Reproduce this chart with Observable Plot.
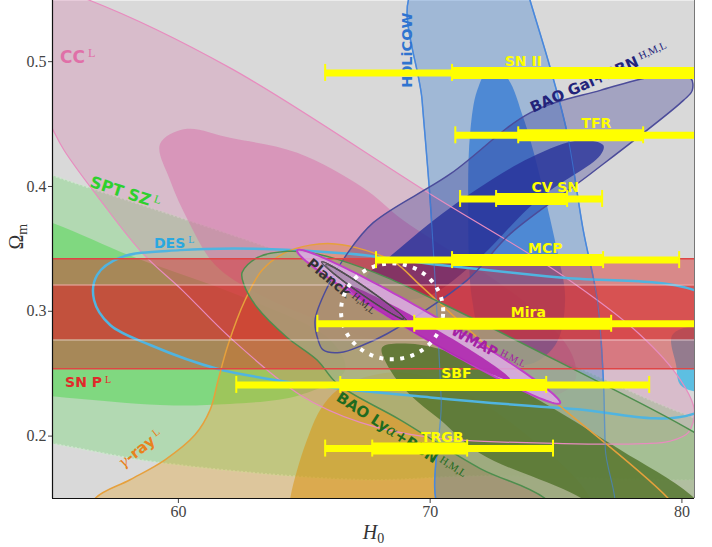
<!DOCTYPE html>
<html><head><meta charset="utf-8">
<script src="https://cdn.jsdelivr.net/npm/d3@7"></script>
<script src="https://cdn.jsdelivr.net/npm/@observablehq/plot@0.6"></script>
<style>body{margin:0;background:#fff;} #chart svg{display:block}</style>
</head><body><div id="chart"></div>
<script>
// ---------- axes ----------
const xDomain = [55, 80.5];
const yDomain = [0.15, 0.549];
const xTicks = [60, 70, 80];
const yTicks = [0.2, 0.3, 0.4, 0.5];

// ---------- contour outlines: [H0, Omega_m] ----------
const ccOuter = [[51.33,0.581],[56.49,0.549],[62.05,0.495],[70.00,0.394],[75.16,0.330],[78.35,0.281],[79.94,0.245],[80.49,0.221],[80.26,0.203],[79.54,0.196],[78.47,0.194],[75.28,0.194],[70.00,0.199],[67.22,0.211],[64.84,0.233],[62.05,0.279],[60.15,0.317],[58.60,0.346],[56.90,0.389],[55.46,0.429],[54.98,0.447],[53.72,0.501]];
const ccInner = [[59.27,0.434],[60.27,0.446],[62.05,0.439],[64.72,0.427],[67.34,0.399],[68.93,0.373],[71.99,0.333],[74.37,0.297],[75.64,0.265],[75.76,0.245],[74.97,0.233],[71.99,0.245],[68.81,0.269],[66.03,0.289],[63.25,0.313],[61.46,0.337],[60.43,0.371],[59.67,0.405]];
const sptOuter = [[48.94,0.453],[54.98,0.409],[58.88,0.383],[64.44,0.345],[69.60,0.305],[75.16,0.261],[80.73,0.213],[87.88,0.173],[80.73,0.165],[71.99,0.168],[67.22,0.165],[59.15,0.179],[54.98,0.194],[48.94,0.213]];
const sptInner = [[48.94,0.413],[54.98,0.371],[58.28,0.343],[62.85,0.309],[66.03,0.277],[66.62,0.253],[64.84,0.233],[61.14,0.225],[59.27,0.225],[54.98,0.232],[48.94,0.245]];
const desOuter = [[56.65,0.309],[56.77,0.329],[57.69,0.343],[60.07,0.349],[63.45,0.350],[66.82,0.346],[70.40,0.337],[75.16,0.327],[80.49,0.317],[83.92,0.277],[80.49,0.218],[75.56,0.222],[70.00,0.231],[64.84,0.242],[61.54,0.254],[58.88,0.273],[57.29,0.289]];
const desInner = [[79.62,0.281],[80.73,0.289],[83.12,0.285],[83.92,0.261],[83.12,0.235],[80.73,0.235],[79.94,0.241],[79.77,0.257]];
const gammaOuter = [[56.09,0.125],[56.69,0.150],[58.08,0.165],[59.47,0.181],[60.66,0.201],[61.26,0.221],[61.58,0.245],[61.97,0.273],[62.65,0.309],[63.33,0.333],[64.24,0.347],[65.23,0.353],[66.23,0.354],[67.42,0.349],[68.61,0.339],[69.60,0.321],[71.99,0.277],[75.04,0.226],[79.46,0.150],[80.73,0.117],[64.84,0.101]];
const gammaInner = [[64.24,0.117],[64.44,0.150],[64.72,0.173],[65.11,0.197],[65.63,0.221],[66.31,0.237],[67.22,0.246],[68.81,0.251],[70.80,0.241],[73.58,0.205],[76.36,0.150],[76.76,0.101]];
const holiOuter = [[69.33,0.557],[69.68,0.469],[70.00,0.389],[70.24,0.309],[70.44,0.229],[70.60,0.133],[77.15,0.133],[76.96,0.189],[76.88,0.245],[76.64,0.309],[76.08,0.365],[75.44,0.443],[74.77,0.495],[73.97,0.549],[73.86,0.557]];
const holiInner = [[72.38,0.495],[73.06,0.487],[73.70,0.455],[74.09,0.429],[75.04,0.349],[75.36,0.309],[74.97,0.273],[73.78,0.257],[72.19,0.273],[71.67,0.309],[71.51,0.389],[71.59,0.443],[71.87,0.477]];
const galOuter = [[65.55,0.277],[65.43,0.293],[65.91,0.319],[66.70,0.346],[67.74,0.371],[70.80,0.410],[73.97,0.459],[76.76,0.477],[79.14,0.489],[80.34,0.487],[80.41,0.477],[80.06,0.469],[76.36,0.410],[73.18,0.362],[71.47,0.325],[68.29,0.282],[67.34,0.273],[66.42,0.267],[65.75,0.269]];
const galInner = [[67.42,0.326],[68.53,0.346],[70.80,0.383],[73.97,0.423],[75.96,0.437],[76.88,0.433],[76.76,0.425],[74.25,0.389],[71.87,0.341],[70.00,0.313],[68.41,0.309],[67.62,0.315]];
const lyaOuter = [[62.53,0.331],[63.13,0.343],[64.32,0.348],[65.23,0.347],[66.42,0.341],[68.29,0.327],[70.40,0.307],[75.16,0.259],[80.49,0.203],[83.92,0.157],[83.12,0.101],[76.76,0.101],[74.57,0.150],[71.99,0.174],[68.81,0.213],[66.31,0.242],[65.51,0.261],[64.32,0.279],[63.13,0.303],[62.61,0.321]];
const lyaInner = [[68.09,0.271],[69.21,0.274],[70.80,0.267],[72.78,0.246],[75.16,0.219],[77.55,0.189],[80.34,0.153],[81.53,0.125],[79.14,0.117],[75.56,0.155],[71.99,0.186],[70.40,0.213],[69.21,0.233],[68.41,0.253]];

// SN P band (Omega_m ranges)
const snpOuter = [0.254, 0.342];
const snpInner = [0.277, 0.321];

// CMB ellipses: centre, semi-axis vector 1, semi-axis vector 2 (H0, Omega_m)
const wmapOuter = {c:[69.94,0.2876], u:[5.22,-0.0612], v:[-0.24,-0.0083]};
const wmapInner = {c:[69.90,0.283], u:[3.28,-0.038], v:[-0.14,-0.0049]};
const planckH = {c:[67.31,0.317], u:[1.63,-0.0228], v:[-0.09,-0.0026]};
const planckM = {c:[67.38,0.316], u:[1.66,-0.0232], v:[-0.10,-0.0029]};
const planckL = {c:[67.45,0.315], u:[1.60,-0.0224], v:[-0.08,-0.0023]};
const dotted = {c:[68.49,0.300], u:[2.03,0], v:[0,0.0384]};

// distance-ladder error bars
const barNames = ["SN II","TFR","CV SN","MCP","Mira","SBF","TRGB"];
const barOm    = [0.491, 0.441, 0.390, 0.341, 0.290, 0.241, 0.190];
const thinLo   = [65.83, 71.00, 71.19, 67.85, 65.52, 62.30, 65.83];
const thickLo  = [70.87, 73.50, 72.62, 70.87, 69.37, 66.43, 67.70];
const thickHi  = [81.50, 78.46, 75.44, 76.87, 77.19, 74.61, 71.47];
const thinHi   = [86.00, 81.00, 76.83, 79.89, 81.04, 78.70, 74.88];
const barLabelH = [73.70, 76.60, 74.97, 74.57, 73.90, 71.04, 70.48];

// probe labels
const probeNames = ["CC","SPT SZ","DES","SN P","γ-ray","H0LiCOW","BAO Gal+BBN","Planck","WMAP","BAO Lyα+BBN"];
const probeSup   = ["L","L","L","L","L","","H,M,L","H,M,L","H,M,L","H,M,L"];
const probeH     = [55.30, 56.45, 59.03, 55.50, 57.80, 69.29, 74.09, 65.07, 70.79, 66.23];
const probeOm    = [0.499, 0.400, 0.351, 0.239, 0.174, 0.479, 0.459, 0.337, 0.282, 0.229];
const probeRot   = [0, 18, 0, 0, -38, -90, -24, 40, 28, 33];
const probeSize  = [17, 16, 14, 14, 15, 14.5, 15, 14, 14, 15];
const probeColor = ["#e070a8","#2ed02e","#2aa8e0","#e02a2a","#e8821e","#2f74d0","#23237a","#333333","#a321a3","#1f6b1f"];

// ---------- build tables ----------
const pts = (arr) => arr.map(([H, Om]) => ({H, Om}));
function ellipse(e, n = 120) {
  return d3.range(n).map(i => {
    const t = 2 * Math.PI * i / n;
    return {H: e.c[0] + e.u[0]*Math.cos(t) + e.v[0]*Math.sin(t),
            Om: e.c[1] + e.u[1]*Math.cos(t) + e.v[1]*Math.sin(t)};
  });
}
const bars = barNames.map((name, i) => ({name, om: barOm[i], thinLo: thinLo[i], thickLo: thickLo[i], thickHi: thickHi[i], thinHi: thinHi[i], lh: barLabelH[i]}));
const caps = bars.flatMap(b => [b.thinLo, b.thickLo, b.thickHi, b.thinHi].map(x => ({x, om: b.om})));
const probes = probeNames.map((name, i) => ({name, H: probeH[i], Om: probeOm[i], rot: probeRot[i], size: probeSize[i], color: probeColor[i]}));

const shape = (arr, o) => Plot.line(pts(arr), {x: "H", y: "Om", curve: "catmull-rom-closed", clip: true, fill: "none", stroke: "none", ...o});
const ell = (e, o) => Plot.line(ellipse(e), {x: "H", y: "Om", curve: "linear-closed", clip: true, fill: "none", stroke: "none", ...o});
const capHalf = 0.0068;

const chart = Plot.plot({
  width: 712, height: 547,
  marginLeft: 52, marginRight: 18, marginTop: 0, marginBottom: 49,
  x: {domain: xDomain, ticks: xTicks, tickSize: 5, tickPadding: 2, label: null},
  y: {domain: yDomain, ticks: yTicks, tickSize: 4, tickPadding: 2, tickFormat: d3.format(".1f"), label: null},
  style: {fontFamily: "Liberation Serif", fontSize: "16px", color: "#444", background: "#fff"},
  marks: [
    Plot.frame({fill: "#d9d9d9", stroke: "none"}),
    // fills
    shape(sptOuter, {fill: "#00d700", fillOpacity: 0.18}),
    shape(sptInner, {fill: "#00d700", fillOpacity: 0.28}),
    shape(sptOuter, {stroke: "#cfe8cf", strokeOpacity: 0.8, strokeWidth: 2, strokeDasharray: "2,2", strokeLinecap: "butt"}),
    shape(ccOuter, {fill: "#d769a5", fillOpacity: 0.25}),
    shape(ccInner, {fill: "#d769a5", fillOpacity: 0.46}),
    shape(desInner, {fill: "#28b4e6", fillOpacity: 0.7}),
    shape(gammaOuter, {fill: "#eb9600", fillOpacity: 0.28}),
    shape(gammaInner, {fill: "#d99410", fillOpacity: 0.55}),
    shape(holiOuter, {fill: "#1e6ed2", fillOpacity: 0.3}),
    shape(holiInner, {fill: "#1e6ed2", fillOpacity: 0.63}),
    shape(holiOuter, {stroke: "#4a88dc", strokeWidth: 1.5}),
    shape(galOuter, {fill: "#28288c", fillOpacity: 0.3}),
    shape(galInner, {fill: "#28329a", fillOpacity: 0.8}),
    // SN P band
    Plot.rect([snpOuter], {y1: d => d[0], y2: d => d[1], fill: "#d72828", fillOpacity: 0.45}),
    Plot.rect([snpInner], {y1: d => d[0], y2: d => d[1], fill: "#d72828", fillOpacity: 0.57}),
    // BAO Ly-alpha above band
    shape(lyaOuter, {fill: "#a0b487", fillOpacity: 0.7}),
    shape(lyaInner, {fill: "#4b6e23", fillOpacity: 0.75}),
    // outlines
    shape(ccOuter, {stroke: "#e88cbf", strokeWidth: 1.2}),
    shape(desOuter, {stroke: "#50b4e0", strokeWidth: 2.5}),
    shape(gammaOuter, {stroke: "#e6a03c", strokeWidth: 1.5}),
    shape(holiOuter, {stroke: "#4a88dc", strokeWidth: 1.2, strokeOpacity: 0.6}),
    shape(galOuter, {stroke: "#4c4c9a", strokeWidth: 1.5}),
    shape(lyaOuter, {stroke: "#4e8e4e", strokeWidth: 1.5}),
    Plot.ruleY(snpOuter, {stroke: "#e04545", strokeWidth: 1.5}),
    Plot.ruleY(snpInner, {stroke: "#ffe6e6", strokeOpacity: 0.45, strokeWidth: 1.5}),
    // CMB
    ell(wmapOuter, {fill: "#dcaae6", fillOpacity: 0.85, stroke: "#c040c8", strokeWidth: 2}),
    ell(wmapInner, {fill: "#af28af", fillOpacity: 0.9}),
    ell(planckH, {fill: "#6e6478", fillOpacity: 0.35, stroke: "#444", strokeWidth: 1}),
    ell(planckM, {stroke: "#555", strokeWidth: 1}),
    ell(planckL, {stroke: "#444", strokeWidth: 1}),
    // probe labels (text group 0)
    Plot.text(probes, {x: "H", y: "Om", text: "name", rotate: "rot", fontSize: "size", fill: "color",
      textAnchor: "start", lineAnchor: "bottom", fontFamily: "DejaVu Sans", fontWeight: "bold"}),
    // dotted white contour
    ell(dotted, {stroke: "white", strokeWidth: 4, strokeDasharray: "4,6.5", strokeLinecap: "butt"}),
    // error bars
    Plot.ruleY(bars, {y: "om", x1: "thinLo", x2: "thinHi", stroke: "#ffff00", strokeWidth: 7, clip: true}),
    Plot.ruleY(bars, {y: "om", x1: "thickLo", x2: "thickHi", stroke: "#ffff00", strokeWidth: 12, clip: true}),
    Plot.ruleX(caps, {x: "x", y1: d => d.om - capHalf, y2: d => d.om + capHalf, stroke: "#ffff00", strokeWidth: 2, clip: true}),
    // bar labels (text group 1)
    Plot.text(bars, {x: "lh", y: "om", text: "name", dy: -7, lineAnchor: "bottom", textAnchor: "middle",
      fill: "#ffff00", fontFamily: "DejaVu Sans", fontWeight: "bold", fontSize: 14}),
    // frame lines
    Plot.ruleX([xDomain[0]], {stroke: "#111", strokeWidth: 1.2}),
    Plot.ruleY([yDomain[0]], {stroke: "#111", strokeWidth: 1.2}),
    Plot.ruleX([xDomain[1]], {stroke: "#777", strokeWidth: 1}),
    // axis titles (text groups 2 and 3)
    Plot.text(["H"], {frameAnchor: "bottom", dy: 40, lineAnchor: "bottom", fontFamily: "Liberation Serif", fontStyle: "italic", fontSize: 20, fill: "#333"}),
    Plot.text(["Ω"], {frameAnchor: "left", dx: -36, rotate: -90, fontFamily: "Liberation Serif", fontSize: 20, fill: "#333"})
  ]
});
document.getElementById("chart").appendChild(chart);

// ---------- rich text (superscripts, Greek, subscripts) ----------
const NS = "http://www.w3.org/2000/svg";
function tspan(parent, txt, attrs) {
  const t = document.createElementNS(NS, "tspan");
  t.textContent = txt;
  for (const k in attrs) t.setAttribute(k, attrs[k]);
  parent.appendChild(t);
  return t;
}
const textGroups = chart.querySelectorAll('g[aria-label="text"]');
textGroups[0].querySelectorAll("text").forEach((t, i) => {
  const s = t.textContent;
  t.textContent = "";
  for (const part of s.split(/([γα])/)) {
    if (!part) continue;
    if (/[γα]/.test(part)) tspan(t, part, {"font-family": "DejaVu Serif", "font-style": "italic", "font-weight": "normal"});
    else tspan(t, part, {});
  }
  if (probeSup[i]) tspan(t, probeSup[i], {dx: "3", dy: "-0.45em", "font-size": "0.72em", "font-family": "Liberation Serif", "font-weight": "normal"});
});
textGroups[2].querySelectorAll("text").forEach(t => {
  tspan(t, "0", {dy: "0.3em", "font-size": "0.7em", "font-style": "normal"});
});
textGroups[3].querySelectorAll("text").forEach(t => {
  tspan(t, "m", {dy: "0.3em", "font-size": "0.7em"});
});
</script></body></html>
